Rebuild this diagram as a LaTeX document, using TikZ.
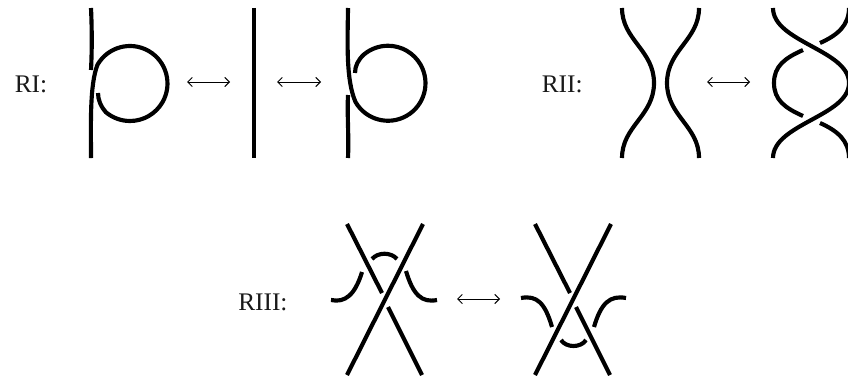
\documentclass[tikz,border=0pt]{standalone}
\usepackage{fontspec}
\setmainfont{Liberation Serif}
\usetikzlibrary{arrows.meta}
\tikzset{
  strand/.style={line width=3.1pt},
  moveLabel/.style={font=\fontsize{19}{19}\selectfont, anchor=base west, inner sep=0pt, text=black!90},
  moveArrow/.style={{Straight Barb[length=3.5pt,width=7pt]}-{Straight Barb[length=3.5pt,width=7pt]}, line width=0.7pt}
}

\begin{document}
\begin{tikzpicture}[x=0.75pt, y=-0.75pt]
\useasboundingbox (0,0) rectangle (848,378);

\node[moveLabel] (labelRI) at (14.5,92) {RI:};
\node[moveLabel] (labelRII) at (541.5,92) {RII:};
\node[moveLabel] (labelRIII) at (238,310) {RIII:};

\foreach \n/\a/\b/\y in {one/187/230/82, two/277/321/82, three/707/750/82, four/457/500/299} {
  \coordinate (\n L) at (\a,\y);
  \coordinate (\n R) at (\b,\y);
  \draw[moveArrow] (\n L) -- (\n R);
}

% RI
\draw[strand] (91,8) .. controls (92,30) and (92,50) .. (91,70);
\draw[strand] (91,158) .. controls (91,125) and (89.5,85) .. (97.5,64.75) arc[start angle=210, end angle=490, radius=37.5] .. controls (101,107) and (98,100) .. (98,93);
\draw[strand] (254,8) -- (254,158);
\draw[strand] (348,8) .. controls (347.5,45) and (346,80) .. (355.5,102) arc[start angle=150, end angle=-130, radius=37.5] .. controls (358,60) and (355,66) .. (355,73);
\draw[strand] (348,158) .. controls (349,135) and (347,115) .. (348,95);

% RII
\draw[strand] (622,8) .. controls (622,40) and (654,50) .. (654,83) .. controls (654,116) and (622,126) .. (622,158);
\draw[strand] (699,8) .. controls (699,40) and (667,50) .. (667,83) .. controls (667,116) and (699,126) .. (699,158);
\draw[strand] (773,8) .. controls (773,42) and (849,50) .. (849,83) .. controls (849,116) and (773,124) .. (773,158);
\draw[strand] (849,8) .. controls (849,25) and (838,35) .. (820,43);
\draw[strand] (803,50) .. controls (785,58) and (774,66) .. (774,83) .. controls (774,100) and (785,108) .. (803,116);
\draw[strand] (820,123) .. controls (838,131) and (849,141) .. (849,158);

% RIII
\foreach \dx in {0,188} {
  \draw[strand] (423+\dx,224) -- (347+\dx,375);
  \draw[strand] (347+\dx,224) -- (382+\dx,293);
  \draw[strand] (388+\dx,307) -- (422+\dx,375);
}
\draw[strand] (331,300) .. controls (345,303) and (355,295) .. (362,272);
\draw[strand] (372,259) .. controls (378,252) and (391,252) .. (397,259);
\draw[strand] (406,271) .. controls (413,295) and (422,303) .. (437,300);
\draw[strand] (521,298) .. controls (537,295) and (545,303) .. (552,327);
\draw[strand] (561,340) .. controls (566,348) and (581,348) .. (586,340);
\draw[strand] (594,327) .. controls (601,303) and (610,295) .. (626,298);
\end{tikzpicture}
\end{document}
